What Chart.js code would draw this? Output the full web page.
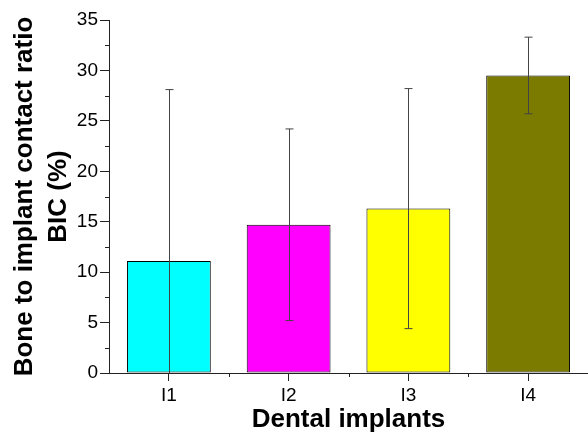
<!DOCTYPE html>
<html>
<head>
<meta charset="utf-8">
<script src="https://cdn.jsdelivr.net/npm/chart.js@4"></script>
<style>
  html, body { margin: 0; padding: 0; background: #fff; }
  #wrap { width: 588px; height: 432px; }
</style>
</head>
<body>
<div id="wrap"><canvas id="chart" width="588" height="432"></canvas></div>
<script>
// data
const implants = ["I1", "I2", "I3", "I4"];
const bicMean = [11.1, 14.7, 16.3, 29.5];
const bicErr = [17.0, 9.5, 11.9, 3.8];
const barColors = ["#00FFFF", "#FF00FF", "#FFFF00", "#7B7B00"];
const yTicks = [0, 5, 10, 15, 20, 25, 30, 35];

// error bars + minor ticks
const extras = {
    id: "extras",
    afterDatasetsDraw(chart) {
        const ctx = chart.ctx;
        const x = chart.scales.x;
        const y = chart.scales.y;
        ctx.save();
        ctx.strokeStyle = "#444";
        ctx.lineWidth = 1;
        bicMean.forEach((m, i) => {
            const px = Math.round(x.getPixelForValue(i)) + 0.5;
            const top = y.getPixelForValue(m + bicErr[i]);
            const lowVal = m - bicErr[i];
            const bot = y.getPixelForValue(Math.max(lowVal, 0));
            ctx.beginPath();
            ctx.moveTo(px, top);
            ctx.lineTo(px, bot);
            ctx.moveTo(px - 4, top);
            ctx.lineTo(px + 4, top);
            if (lowVal >= 0) {
                ctx.moveTo(px - 4, bot);
                ctx.lineTo(px + 4, bot);
            }
            ctx.stroke();
        });
        ctx.restore();
    },
    afterDraw(chart) {
        const ctx = chart.ctx;
        const x = chart.scales.x;
        const y = chart.scales.y;
        const area = chart.chartArea;
        ctx.save();
        ctx.strokeStyle = "#222";
        ctx.lineWidth = 1;
        ctx.beginPath();
        // minor y ticks
        for (let v = 2.5; v < 35; v += 5) {
            const py = Math.round(y.getPixelForValue(v)) + 0.5;
            ctx.moveTo(area.left - 4, py);
            ctx.lineTo(area.left, py);
        }
        // category boundary ticks
        for (let i = 0; i < implants.length - 1; i++) {
            const px = Math.round(x.getPixelForValue(i + 0.5)) + 0.5;
            ctx.moveTo(px, area.bottom);
            ctx.lineTo(px, area.bottom + 4);
        }
        ctx.stroke();
        ctx.restore();
    }
};

new Chart(document.getElementById("chart"), {
    type: "bar",
    data: {
        labels: implants,
        datasets: [{
            data: bicMean,
            backgroundColor: barColors,
            borderColor: "#000",
            borderWidth: 1,
            borderSkipped: false,
            barPercentage: 0.7,
            categoryPercentage: 1.0
        }]
    },
    options: {
        responsive: false,
        animation: false,
        devicePixelRatio: 1,
        layout: { padding: { top: 20, right: 0, left: 8, bottom: 0 } },
        plugins: {
            legend: { display: false },
            tooltip: { enabled: false }
        },
        scales: {
            x: {
                offset: true,
                grid: {
                    offset: false,
                    drawOnChartArea: false,
                    tickLength: 8,
                    tickColor: "#222"
                },
                border: { color: "#222", width: 1 },
                ticks: {
                    color: "#000",
                    padding: 3,
                    font: { family: "'Liberation Sans', Arial", size: 19 }
                },
                title: {
                    display: true,
                    text: "Dental implants",
                    color: "#000",
                    padding: { top: 0, bottom: 0 },
                    font: { family: "'Liberation Sans', Arial", size: 26, weight: "bold", lineHeight: 0.9 }
                },
                afterFit(scale) { scale.height = 59; }
            },
            y: {
                min: 0,
                max: 35,
                afterBuildTicks(scale) {
                    scale.ticks = yTicks.map(v => ({ value: v }));
                },
                grid: {
                    drawOnChartArea: false,
                    tickLength: 9,
                    tickColor: "#222"
                },
                border: { color: "#222", width: 1 },
                ticks: {
                    color: "#000",
                    padding: 2,
                    font: { family: "'Liberation Sans', Arial", size: 19 }
                },
                title: {
                    display: true,
                    text: ["Bone to implant contact ratio", "BIC (%)"],
                    color: "#000",
                    padding: 0,
                    font: { family: "'Liberation Sans', Arial", size: 26, weight: "bold", lineHeight: 1.3 }
                },
                afterFit(scale) { scale.width = 101; }
            }
        }
    },
    plugins: [extras]
});
</script>
</body>
</html>
